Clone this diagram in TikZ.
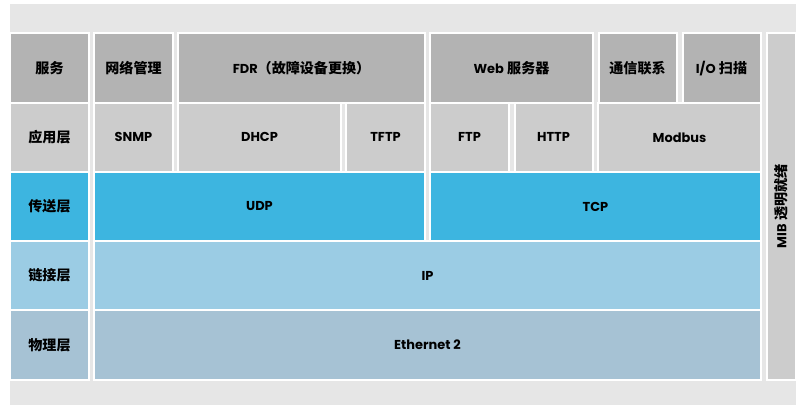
\documentclass[tikz,border=0pt]{standalone}
\usepackage{fontspec}
\setmainfont{Noto Sans CJK SC}
\newfontfamily\lat{Poppins}[Scale=0.92]
\definecolor{bggray}{HTML}{E6E6E6}
\definecolor{svcgray}{HTML}{B3B3B3}
\definecolor{appgray}{HTML}{CCCCCC}
\definecolor{tranblue}{HTML}{3DB5E0}
\definecolor{linkblue}{HTML}{9BCCE4}
\definecolor{physblue}{HTML}{A6C2D4}
\begin{document}
\begin{tikzpicture}[x=0.025cm, y=-0.025cm, font=\bfseries\fontsize{10}{12}\selectfont]
  \tikzstyle{blk}=[rectangle, draw=white, line width=0.05cm, minimum height=1.73cm,
                   inner sep=0pt, align=center]
  \useasboundingbox (0,0) rectangle (799,405);
  \fill[bggray] (10,4) rectangle (796,405);

  % 服务
  \node[blk, fill=svcgray, minimum width=1.95cm] (svc) at (49.5,68.1) {服务};
  \node[blk, fill=svcgray, minimum width=1.95cm] (netmgmt) at (133.5,68.1) {网络管理};
  \node[blk, fill=svcgray, minimum width=6.15cm] (fdr) at (301.5,68.1) {{\lat FDR}（故障设备更换）};
  \node[blk, fill=svcgray, minimum width=4.05cm] (web) at (511.5,68.1) {{\lat Web} 服务器};
  \node[blk, fill=svcgray, minimum width=1.95cm] (comm) at (637.5,68.1) {通信联系};
  \node[blk, fill=svcgray, minimum width=1.95cm] (ioscan) at (721.5,68.1) {{\lat I/O} 扫描};

  % 应用层
  \node[blk, fill=appgray, minimum width=1.95cm] (app) at (49.5,137.3) {应用层};
  \node[blk, fill=appgray, minimum width=1.95cm] (snmp) at (133.5,137.3) {\lat SNMP};
  \node[blk, fill=appgray, minimum width=4.05cm] (dhcp) at (259.5,137.3) {\lat DHCP};
  \node[blk, fill=appgray, minimum width=1.95cm] (tftp) at (385.5,137.3) {\lat TFTP};
  \node[blk, fill=appgray, minimum width=1.95cm] (ftp) at (469.5,137.3) {\lat FTP};
  \node[blk, fill=appgray, minimum width=1.95cm] (http) at (553.5,137.3) {\lat HTTP};
  \node[blk, fill=appgray, minimum width=4.05cm] (modbus) at (679.5,137.3) {\lat Modbus};

  % 传送层, 链接层, 物理层
  \node[blk, fill=tranblue, minimum width=1.95cm] (tran) at (49.5,206.5) {传送层};
  \node[blk, fill=tranblue, minimum width=8.25cm] (udp) at (259.5,206.5) {\lat UDP};
  \node[blk, fill=tranblue, minimum width=8.25cm] (tcp) at (595.5,206.5) {\lat TCP};
  \node[blk, fill=linkblue, minimum width=1.95cm] (link) at (49.5,275.7) {链接层};
  \node[blk, fill=linkblue, minimum width=16.65cm] (ip) at (427.5,275.7) {\lat IP};
  \node[blk, fill=physblue, minimum width=1.95cm] (phys) at (49.5,344.9) {物理层};
  \node[blk, fill=physblue, minimum width=16.65cm] (eth) at (427.5,344.9) {\lat Ethernet 2};

  \node[blk, fill=appgray, rotate=90, minimum width=8.65cm, minimum height=0.725cm] (mib)
    at (781,206.5) {{\lat MIB} 透明就绪};
\end{tikzpicture}
\end{document}
